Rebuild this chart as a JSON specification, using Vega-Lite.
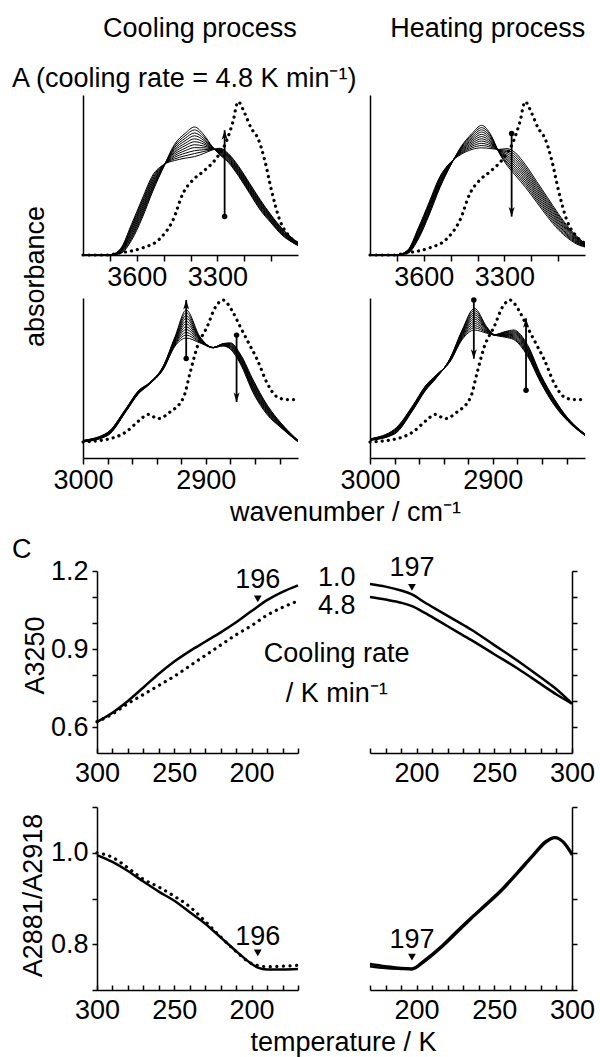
{
"$schema":"https://vega.github.io/schema/vega-lite/v6.json",
"autosize":{"type":"none"},
"padding":{"left":83,"top":95,"right":517,"bottom":962},
"background":"white",
"bounds":"flush",
"columns":2,
"spacing":{"row":43,"column":72},
"config":{
 "view":{"stroke":null},
 "font":"Liberation Sans",
 "axis":{"domainColor":"black","domainWidth":1.5,"tickColor":"black","tickWidth":1.5,"labelColor":"black","labelFontSize":27,"titleFontSize":27,"titleFontWeight":"normal","titleColor":"black","grid":false,"labelFont":"Liberation Sans","titleFont":"Liberation Sans","labelOverlap":false,"labelFlush":false,"labelBound":false,"tickCount":100},
 "text":{"font":"Liberation Sans","fontSize":27,"color":"black"}
},
"datasets":{
 "spec":[
  {"p":"TL","w":3800,"c0":0,"m0":0,"c1":0,"m1":0,"c2":0,"m2":0,"c3":0,"m3":0,"c4":0,"m4":0,"c5":0},
  {"p":"TL","w":3700,"c0":0,"m0":0,"c1":0,"m1":0,"c2":0,"m2":0,"c3":0,"m3":0,"c4":0,"m4":0,"c5":0},
  {"p":"TL","w":3660,"c0":0.01,"m0":0.013,"c1":0.016,"m1":0.019,"c2":0.022,"m2":0.025,"c3":0.028,"m3":0.031,"c4":0.034,"m4":0.037,"c5":0.04},
  {"p":"TL","w":3620,"c0":0.09,"m0":0.10,"c1":0.11,"m1":0.12,"c2":0.13,"m2":0.14,"c3":0.15,"m3":0.16,"c4":0.17,"m4":0.18,"c5":0.19},
  {"p":"TL","w":3580,"c0":0.23,"m0":0.242,"c1":0.254,"m1":0.266,"c2":0.278,"m2":0.29,"c3":0.302,"m3":0.314,"c4":0.326,"m4":0.338,"c5":0.35},
  {"p":"TL","w":3540,"c0":0.40,"m0":0.41,"c1":0.42,"m1":0.43,"c2":0.44,"m2":0.45,"c3":0.46,"m3":0.47,"c4":0.48,"m4":0.49,"c5":0.50},
  {"p":"TL","w":3500,"c0":0.55,"m0":0.552,"c1":0.553,"m1":0.555,"c2":0.556,"m2":0.558,"c3":0.559,"m3":0.561,"c4":0.562,"m4":0.564,"c5":0.565},
  {"p":"TL","w":3460,"c0":0.69,"m0":0.68,"c1":0.67,"m1":0.66,"c2":0.65,"m2":0.64,"c3":0.63,"m3":0.62,"c4":0.61,"m4":0.60,"c5":0.59},
  {"p":"TL","w":3420,"c0":0.76,"m0":0.745,"c1":0.729,"m1":0.714,"c2":0.698,"m2":0.683,"c3":0.667,"m3":0.652,"c4":0.636,"m4":0.62,"c5":0.605},
  {"p":"TL","w":3385,"c0":0.80,"m0":0.782,"c1":0.763,"m1":0.745,"c2":0.726,"m2":0.708,"c3":0.689,"m3":0.671,"c4":0.652,"m4":0.634,"c5":0.615},
  {"p":"TL","w":3350,"c0":0.75,"m0":0.739,"c1":0.727,"m1":0.716,"c2":0.704,"m2":0.693,"c3":0.681,"m3":0.67,"c4":0.658,"m4":0.647,"c5":0.635},
  {"p":"TL","w":3320,"c0":0.68,"m0":0.678,"c1":0.675,"m1":0.673,"c2":0.67,"m2":0.668,"c3":0.666,"m3":0.663,"c4":0.661,"m4":0.658,"c5":0.656},
  {"p":"TL","w":3290,"c0":0.625,"m0":0.629,"c1":0.633,"m1":0.638,"c2":0.642,"m2":0.646,"c3":0.65,"m3":0.654,"c4":0.659,"m4":0.663,"c5":0.667},
  {"p":"TL","w":3260,"c0":0.58,"m0":0.586,"c1":0.591,"m1":0.597,"c2":0.602,"m2":0.608,"c3":0.613,"m3":0.619,"c4":0.624,"m4":0.63,"c5":0.635},
  {"p":"TL","w":3220,"c0":0.49,"m0":0.496,"c1":0.502,"m1":0.509,"c2":0.515,"m2":0.521,"c3":0.527,"m3":0.533,"c4":0.54,"m4":0.546,"c5":0.552},
  {"p":"TL","w":3180,"c0":0.385,"m0":0.391,"c1":0.398,"m1":0.404,"c2":0.41,"m2":0.417,"c3":0.423,"m3":0.429,"c4":0.435,"m4":0.442,"c5":0.448},
  {"p":"TL","w":3140,"c0":0.28,"m0":0.286,"c1":0.293,"m1":0.299,"c2":0.306,"m2":0.312,"c3":0.318,"m3":0.325,"c4":0.331,"m4":0.338,"c5":0.344},
  {"p":"TL","w":3100,"c0":0.2,"m0":0.205,"c1":0.21,"m1":0.215,"c2":0.22,"m2":0.225,"c3":0.23,"m3":0.235,"c4":0.24,"m4":0.245,"c5":0.25},
  {"p":"TL","w":3060,"c0":0.125,"m0":0.129,"c1":0.133,"m1":0.138,"c2":0.142,"m2":0.146,"c3":0.15,"m3":0.154,"c4":0.159,"m4":0.163,"c5":0.167},
  {"p":"TL","w":3020,"c0":0.077,"m0":0.08,"c1":0.082,"m1":0.085,"c2":0.088,"m2":0.09,"c3":0.093,"m3":0.096,"c4":0.099,"m4":0.101,"c5":0.104},
  {"p":"TL","w":3000,"c0":0.058,"m0":0.06,"c1":0.062,"m1":0.064,"c2":0.066,"m2":0.068,"c3":0.069,"m3":0.071,"c4":0.073,"m4":0.075,"c5":0.077},

  {"p":"TR","w":3800,"c0":0,"m0":0,"c1":0,"m1":0,"c2":0,"m2":0,"c3":0,"m3":0,"c4":0,"m4":0,"c5":0},
  {"p":"TR","w":3700,"c0":0,"m0":0,"c1":0,"m1":0,"c2":0,"m2":0,"c3":0,"m3":0,"c4":0,"m4":0,"c5":0},
  {"p":"TR","w":3660,"c0":0.03,"m0":0.028,"c1":0.026,"m1":0.024,"c2":0.022,"m2":0.02,"c3":0.018,"m3":0.016,"c4":0.014,"m4":0.012,"c5":0.01},
  {"p":"TR","w":3620,"c0":0.17,"m0":0.163,"c1":0.156,"m1":0.149,"c2":0.142,"m2":0.135,"c3":0.128,"m3":0.121,"c4":0.114,"m4":0.107,"c5":0.10},
  {"p":"TR","w":3580,"c0":0.33,"m0":0.322,"c1":0.314,"m1":0.306,"c2":0.298,"m2":0.29,"c3":0.282,"m3":0.274,"c4":0.266,"m4":0.258,"c5":0.25},
  {"p":"TR","w":3540,"c0":0.49,"m0":0.483,"c1":0.476,"m1":0.469,"c2":0.462,"m2":0.455,"c3":0.448,"m3":0.441,"c4":0.434,"m4":0.427,"c5":0.42},
  {"p":"TR","w":3500,"c0":0.58,"m0":0.578,"c1":0.576,"m1":0.574,"c2":0.572,"m2":0.57,"c3":0.568,"m3":0.566,"c4":0.564,"m4":0.562,"c5":0.56},
  {"p":"TR","w":3460,"c0":0.63,"m0":0.635,"c1":0.64,"m1":0.645,"c2":0.65,"m2":0.655,"c3":0.66,"m3":0.665,"c4":0.67,"m4":0.675,"c5":0.68},
  {"p":"TR","w":3420,"c0":0.66,"m0":0.67,"c1":0.68,"m1":0.69,"c2":0.70,"m2":0.71,"c3":0.72,"m3":0.73,"c4":0.74,"m4":0.75,"c5":0.76},
  {"p":"TR","w":3385,"c0":0.67,"m0":0.684,"c1":0.698,"m1":0.712,"c2":0.726,"m2":0.74,"c3":0.754,"m3":0.768,"c4":0.782,"m4":0.796,"c5":0.81},
  {"p":"TR","w":3350,"c0":0.665,"m0":0.674,"c1":0.682,"m1":0.691,"c2":0.699,"m2":0.708,"c3":0.716,"m3":0.725,"c4":0.733,"m4":0.742,"c5":0.75},
  {"p":"TR","w":3320,"c0":0.66,"m0":0.658,"c1":0.656,"m1":0.654,"c2":0.652,"m2":0.65,"c3":0.648,"m3":0.646,"c4":0.644,"m4":0.642,"c5":0.64},
  {"p":"TR","w":3290,"c0":0.665,"m0":0.655,"c1":0.644,"m1":0.634,"c2":0.623,"m2":0.613,"c3":0.602,"m3":0.592,"c4":0.581,"m4":0.571,"c5":0.56},
  {"p":"TR","w":3260,"c0":0.64,"m0":0.626,"c1":0.612,"m1":0.598,"c2":0.584,"m2":0.57,"c3":0.556,"m3":0.542,"c4":0.528,"m4":0.514,"c5":0.50},
  {"p":"TR","w":3220,"c0":0.56,"m0":0.546,"c1":0.532,"m1":0.518,"c2":0.504,"m2":0.49,"c3":0.476,"m3":0.462,"c4":0.448,"m4":0.434,"c5":0.42},
  {"p":"TR","w":3180,"c0":0.46,"m0":0.447,"c1":0.434,"m1":0.421,"c2":0.408,"m2":0.395,"c3":0.382,"m3":0.369,"c4":0.356,"m4":0.343,"c5":0.33},
  {"p":"TR","w":3140,"c0":0.36,"m0":0.348,"c1":0.336,"m1":0.324,"c2":0.312,"m2":0.30,"c3":0.288,"m3":0.276,"c4":0.264,"m4":0.252,"c5":0.24},
  {"p":"TR","w":3100,"c0":0.26,"m0":0.25,"c1":0.24,"m1":0.23,"c2":0.22,"m2":0.21,"c3":0.20,"m3":0.19,"c4":0.18,"m4":0.17,"c5":0.16},
  {"p":"TR","w":3060,"c0":0.17,"m0":0.163,"c1":0.156,"m1":0.149,"c2":0.142,"m2":0.135,"c3":0.128,"m3":0.121,"c4":0.114,"m4":0.107,"c5":0.10},
  {"p":"TR","w":3020,"c0":0.10,"m0":0.096,"c1":0.092,"m1":0.088,"c2":0.084,"m2":0.08,"c3":0.076,"m3":0.072,"c4":0.068,"m4":0.064,"c5":0.06},
  {"p":"TR","w":3000,"c0":0.07,"m0":0.068,"c1":0.066,"m1":0.064,"c2":0.062,"m2":0.06,"c3":0.058,"m3":0.056,"c4":0.054,"m4":0.052,"c5":0.05},

  {"p":"BL","w":3000,"c0":0.10,"m0":0.101,"c1":0.102,"m1":0.103,"c2":0.104,"m2":0.105,"c3":0.106,"m3":0.107,"c4":0.108,"m4":0.109,"c5":0.11},
  {"p":"BL","w":2980,"c0":0.14,"m0":0.142,"c1":0.144,"m1":0.146,"c2":0.148,"m2":0.15,"c3":0.152,"m3":0.154,"c4":0.156,"m4":0.158,"c5":0.16},
  {"p":"BL","w":2965,"c0":0.29,"m0":0.292,"c1":0.294,"m1":0.296,"c2":0.298,"m2":0.30,"c3":0.302,"m3":0.304,"c4":0.306,"m4":0.308,"c5":0.31},
  {"p":"BL","w":2955,"c0":0.40,"m0":0.402,"c1":0.404,"m1":0.406,"c2":0.408,"m2":0.41,"c3":0.412,"m3":0.414,"c4":0.416,"m4":0.418,"c5":0.42},
  {"p":"BL","w":2946,"c0":0.46,"m0":0.461,"c1":0.462,"m1":0.463,"c2":0.464,"m2":0.465,"c3":0.466,"m3":0.467,"c4":0.468,"m4":0.469,"c5":0.47},
  {"p":"BL","w":2935,"c0":0.55,"m0":0.552,"c1":0.554,"m1":0.556,"c2":0.558,"m2":0.56,"c3":0.562,"m3":0.564,"c4":0.566,"m4":0.568,"c5":0.57},
  {"p":"BL","w":2925,"c0":0.70,"m0":0.706,"c1":0.712,"m1":0.718,"c2":0.724,"m2":0.73,"c3":0.736,"m3":0.742,"c4":0.748,"m4":0.754,"c5":0.76},
  {"p":"BL","w":2916,"c0":0.75,"m0":0.768,"c1":0.785,"m1":0.803,"c2":0.82,"m2":0.838,"c3":0.855,"m3":0.873,"c4":0.89,"m4":0.908,"c5":0.925},
  {"p":"BL","w":2905,"c0":0.72,"m0":0.724,"c1":0.728,"m1":0.732,"c2":0.736,"m2":0.74,"c3":0.744,"m3":0.748,"c4":0.752,"m4":0.756,"c5":0.76},
  {"p":"BL","w":2894,"c0":0.69,"m0":0.69,"c1":0.689,"m1":0.689,"c2":0.69,"m2":0.69,"c3":0.689,"m3":0.691,"c4":0.691,"m4":0.69,"c5":0.69},
  {"p":"BL","w":2886,"c0":0.715,"m0":0.714,"c1":0.712,"m1":0.711,"c2":0.709,"m2":0.708,"c3":0.706,"m3":0.705,"c4":0.703,"m4":0.702,"c5":0.70},
  {"p":"BL","w":2880,"c0":0.72,"m0":0.716,"c1":0.712,"m1":0.708,"c2":0.704,"m2":0.70,"c3":0.696,"m3":0.692,"c4":0.688,"m4":0.684,"c5":0.68},
  {"p":"BL","w":2872,"c0":0.65,"m0":0.644,"c1":0.638,"m1":0.632,"c2":0.626,"m2":0.62,"c3":0.614,"m3":0.608,"c4":0.602,"m4":0.596,"c5":0.59},
  {"p":"BL","w":2861,"c0":0.48,"m0":0.472,"c1":0.464,"m1":0.456,"c2":0.448,"m2":0.44,"c3":0.432,"m3":0.424,"c4":0.416,"m4":0.408,"c5":0.40},
  {"p":"BL","w":2850,"c0":0.33,"m0":0.324,"c1":0.318,"m1":0.312,"c2":0.306,"m2":0.30,"c3":0.294,"m3":0.288,"c4":0.282,"m4":0.276,"c5":0.27},
  {"p":"BL","w":2839,"c0":0.22,"m0":0.217,"c1":0.214,"m1":0.211,"c2":0.208,"m2":0.205,"c3":0.202,"m3":0.199,"c4":0.196,"m4":0.193,"c5":0.19},
  {"p":"BL","w":2825,"c0":0.11,"m0":0.109,"c1":0.108,"m1":0.107,"c2":0.106,"m2":0.105,"c3":0.104,"m3":0.103,"c4":0.102,"m4":0.101,"c5":0.10},

  {"p":"BR","w":3000,"c0":0.11,"m0":0.111,"c1":0.112,"m1":0.113,"c2":0.114,"m2":0.115,"c3":0.116,"m3":0.117,"c4":0.118,"m4":0.119,"c5":0.12},
  {"p":"BR","w":2980,"c0":0.15,"m0":0.153,"c1":0.156,"m1":0.159,"c2":0.162,"m2":0.165,"c3":0.168,"m3":0.171,"c4":0.174,"m4":0.177,"c5":0.18},
  {"p":"BR","w":2965,"c0":0.30,"m0":0.303,"c1":0.306,"m1":0.309,"c2":0.312,"m2":0.315,"c3":0.318,"m3":0.321,"c4":0.324,"m4":0.327,"c5":0.33},
  {"p":"BR","w":2955,"c0":0.42,"m0":0.423,"c1":0.426,"m1":0.429,"c2":0.432,"m2":0.435,"c3":0.438,"m3":0.441,"c4":0.444,"m4":0.447,"c5":0.45},
  {"p":"BR","w":2946,"c0":0.50,"m0":0.502,"c1":0.504,"m1":0.506,"c2":0.508,"m2":0.51,"c3":0.512,"m3":0.514,"c4":0.516,"m4":0.518,"c5":0.52},
  {"p":"BR","w":2935,"c0":0.62,"m0":0.618,"c1":0.616,"m1":0.614,"c2":0.612,"m2":0.61,"c3":0.608,"m3":0.606,"c4":0.604,"m4":0.602,"c5":0.60},
  {"p":"BR","w":2925,"c0":0.80,"m0":0.794,"c1":0.788,"m1":0.782,"c2":0.776,"m2":0.77,"c3":0.764,"m3":0.758,"c4":0.752,"m4":0.746,"c5":0.74},
  {"p":"BR","w":2915,"c0":0.935,"m0":0.922,"c1":0.908,"m1":0.895,"c2":0.881,"m2":0.868,"c3":0.854,"m3":0.841,"c4":0.827,"m4":0.814,"c5":0.80},
  {"p":"BR","w":2905,"c0":0.82,"m0":0.816,"c1":0.812,"m1":0.808,"c2":0.804,"m2":0.80,"c3":0.796,"m3":0.792,"c4":0.788,"m4":0.784,"c5":0.78},
  {"p":"BR","w":2899,"c0":0.77,"m0":0.77,"c1":0.771,"m1":0.771,"c2":0.77,"m2":0.77,"c3":0.769,"m3":0.769,"c4":0.77,"m4":0.77,"c5":0.77},
  {"p":"BR","w":2890,"c0":0.755,"m0":0.759,"c1":0.762,"m1":0.766,"c2":0.769,"m2":0.773,"c3":0.776,"m3":0.78,"c4":0.783,"m4":0.787,"c5":0.79},
  {"p":"BR","w":2883,"c0":0.74,"m0":0.746,"c1":0.752,"m1":0.758,"c2":0.764,"m2":0.77,"c3":0.776,"m3":0.782,"c4":0.788,"m4":0.794,"c5":0.80},
  {"p":"BR","w":2872,"c0":0.64,"m0":0.647,"c1":0.654,"m1":0.661,"c2":0.668,"m2":0.675,"c3":0.682,"m3":0.689,"c4":0.696,"m4":0.703,"c5":0.71},
  {"p":"BR","w":2861,"c0":0.47,"m0":0.475,"c1":0.48,"m1":0.485,"c2":0.49,"m2":0.495,"c3":0.50,"m3":0.505,"c4":0.51,"m4":0.515,"c5":0.52},
  {"p":"BR","w":2850,"c0":0.33,"m0":0.334,"c1":0.338,"m1":0.342,"c2":0.346,"m2":0.35,"c3":0.354,"m3":0.358,"c4":0.362,"m4":0.366,"c5":0.37},
  {"p":"BR","w":2839,"c0":0.23,"m0":0.232,"c1":0.234,"m1":0.236,"c2":0.238,"m2":0.24,"c3":0.242,"m3":0.244,"c4":0.246,"m4":0.248,"c5":0.25},
  {"p":"BR","w":2825,"c0":0.14,"m0":0.141,"c1":0.142,"m1":0.143,"c2":0.144,"m2":0.145,"c3":0.146,"m3":0.147,"c4":0.148,"m4":0.149,"c5":0.15}
 ],
 "dot":[
  {"p":"OH","w":3800,"v":0},{"p":"OH","w":3700,"v":0},{"p":"OH","w":3676,"v":0.01},{"p":"OH","w":3620,"v":0.025},
  {"p":"OH","w":3577,"v":0.045},{"p":"OH","w":3515,"v":0.1},{"p":"OH","w":3465,"v":0.219},{"p":"OH","w":3428,"v":0.385},
  {"p":"OH","w":3391,"v":0.469},{"p":"OH","w":3353,"v":0.521},{"p":"OH","w":3304,"v":0.604},{"p":"OH","w":3267,"v":0.708},
  {"p":"OH","w":3242,"v":0.833},{"p":"OH","w":3223,"v":0.958},{"p":"OH","w":3198,"v":0.885},{"p":"OH","w":3174,"v":0.792},
  {"p":"OH","w":3149,"v":0.729},{"p":"OH","w":3124,"v":0.594},{"p":"OH","w":3099,"v":0.406},{"p":"OH","w":3068,"v":0.219},
  {"p":"OH","w":3031,"v":0.115},{"p":"OH","w":3000,"v":0.073},
  {"p":"CH","w":3000,"v":0.10},{"p":"CH","w":2978,"v":0.121},{"p":"CH","w":2965,"v":0.163},{"p":"CH","w":2954,"v":0.236},
  {"p":"CH","w":2947,"v":0.273},{"p":"CH","w":2939,"v":0.246},{"p":"CH","w":2929,"v":0.288},{"p":"CH","w":2918,"v":0.382},
  {"p":"CH","w":2913,"v":0.528},{"p":"CH","w":2907,"v":0.695},{"p":"CH","w":2899,"v":0.82},{"p":"CH","w":2892,"v":0.946},
  {"p":"CH","w":2886,"v":0.987},{"p":"CH","w":2879,"v":0.925},{"p":"CH","w":2872,"v":0.82},{"p":"CH","w":2865,"v":0.716},
  {"p":"CH","w":2858,"v":0.612},{"p":"CH","w":2850,"v":0.466},{"p":"CH","w":2842,"v":0.382},{"p":"CH","w":2834,"v":0.365},
  {"p":"CH","w":2825,"v":0.365}
 ],
 "arr":[
  {"p":"TL","w":3273,"a":0.24,"b":0.78,"dir":"up"},
  {"p":"TR","w":3273,"a":0.76,"b":0.24,"dir":"down"},
  {"p":"BL","w":2916,"a":0.622,"b":0.987,"dir":"up"},
  {"p":"BL","w":2875,"a":0.768,"b":0.35,"dir":"down"},
  {"p":"BR","w":2915.5,"a":0.987,"b":0.62,"dir":"down"},
  {"p":"BR","w":2873,"a":0.424,"b":0.873,"dir":"up"}
 ],
 "temp":[
  {"p":"CTL","r":1.0,"t":300,"v":0.62},{"p":"CTL","r":1.0,"t":290,"v":0.655},{"p":"CTL","r":1.0,"t":280,"v":0.70},
  {"p":"CTL","r":1.0,"t":270,"v":0.752},{"p":"CTL","r":1.0,"t":260,"v":0.805},{"p":"CTL","r":1.0,"t":250,"v":0.852},
  {"p":"CTL","r":1.0,"t":240,"v":0.892},{"p":"CTL","r":1.0,"t":230,"v":0.928},{"p":"CTL","r":1.0,"t":220,"v":0.964},
  {"p":"CTL","r":1.0,"t":210,"v":1.003},{"p":"CTL","r":1.0,"t":200,"v":1.046},{"p":"CTL","r":1.0,"t":190,"v":1.088},
  {"p":"CTL","r":1.0,"t":180,"v":1.12},{"p":"CTL","r":1.0,"t":170,"v":1.145},
  {"p":"CTL","r":4.8,"t":300,"v":0.62},{"p":"CTL","r":4.8,"t":290,"v":0.65},{"p":"CTL","r":4.8,"t":280,"v":0.69},
  {"p":"CTL","r":4.8,"t":270,"v":0.725},{"p":"CTL","r":4.8,"t":260,"v":0.76},{"p":"CTL","r":4.8,"t":250,"v":0.795},
  {"p":"CTL","r":4.8,"t":240,"v":0.835},{"p":"CTL","r":4.8,"t":230,"v":0.875},{"p":"CTL","r":4.8,"t":220,"v":0.915},
  {"p":"CTL","r":4.8,"t":210,"v":0.955},{"p":"CTL","r":4.8,"t":200,"v":0.99},{"p":"CTL","r":4.8,"t":190,"v":1.03},
  {"p":"CTL","r":4.8,"t":180,"v":1.06},{"p":"CTL","r":4.8,"t":170,"v":1.085},

  {"p":"CTR","r":1.0,"t":170,"v":1.15},{"p":"CTR","r":1.0,"t":180,"v":1.14},{"p":"CTR","r":1.0,"t":190,"v":1.125},
  {"p":"CTR","r":1.0,"t":197,"v":1.11},{"p":"CTR","r":1.0,"t":205,"v":1.08},{"p":"CTR","r":1.0,"t":215,"v":1.045},
  {"p":"CTR","r":1.0,"t":225,"v":1.01},{"p":"CTR","r":1.0,"t":235,"v":0.975},{"p":"CTR","r":1.0,"t":250,"v":0.915},
  {"p":"CTR","r":1.0,"t":265,"v":0.855},{"p":"CTR","r":1.0,"t":280,"v":0.79},{"p":"CTR","r":1.0,"t":290,"v":0.745},
  {"p":"CTR","r":1.0,"t":300,"v":0.69},
  {"p":"CTR","r":4.8,"t":170,"v":1.10},{"p":"CTR","r":4.8,"t":180,"v":1.09},{"p":"CTR","r":4.8,"t":190,"v":1.078},
  {"p":"CTR","r":4.8,"t":197,"v":1.065},{"p":"CTR","r":4.8,"t":205,"v":1.04},{"p":"CTR","r":4.8,"t":215,"v":1.005},
  {"p":"CTR","r":4.8,"t":225,"v":0.97},{"p":"CTR","r":4.8,"t":235,"v":0.935},{"p":"CTR","r":4.8,"t":250,"v":0.88},
  {"p":"CTR","r":4.8,"t":265,"v":0.825},{"p":"CTR","r":4.8,"t":280,"v":0.765},{"p":"CTR","r":4.8,"t":290,"v":0.725},
  {"p":"CTR","r":4.8,"t":300,"v":0.69},

  {"p":"CBL","r":1.0,"t":300,"v":0.995},{"p":"CBL","r":1.0,"t":290,"v":0.98},{"p":"CBL","r":1.0,"t":280,"v":0.96},
  {"p":"CBL","r":1.0,"t":270,"v":0.937},{"p":"CBL","r":1.0,"t":260,"v":0.915},{"p":"CBL","r":1.0,"t":250,"v":0.895},
  {"p":"CBL","r":1.0,"t":240,"v":0.87},{"p":"CBL","r":1.0,"t":230,"v":0.845},{"p":"CBL","r":1.0,"t":220,"v":0.815},
  {"p":"CBL","r":1.0,"t":210,"v":0.785},{"p":"CBL","r":1.0,"t":200,"v":0.757},{"p":"CBL","r":1.0,"t":196,"v":0.749},
  {"p":"CBL","r":1.0,"t":190,"v":0.745},{"p":"CBL","r":1.0,"t":180,"v":0.745},{"p":"CBL","r":1.0,"t":170,"v":0.746},
  {"p":"CBL","r":4.8,"t":300,"v":1.0},{"p":"CBL","r":4.8,"t":290,"v":0.99},{"p":"CBL","r":4.8,"t":280,"v":0.967},
  {"p":"CBL","r":4.8,"t":270,"v":0.942},{"p":"CBL","r":4.8,"t":260,"v":0.925},{"p":"CBL","r":4.8,"t":250,"v":0.905},
  {"p":"CBL","r":4.8,"t":240,"v":0.882},{"p":"CBL","r":4.8,"t":230,"v":0.85},{"p":"CBL","r":4.8,"t":220,"v":0.816},
  {"p":"CBL","r":4.8,"t":210,"v":0.784},{"p":"CBL","r":4.8,"t":200,"v":0.758},{"p":"CBL","r":4.8,"t":190,"v":0.751},
  {"p":"CBL","r":4.8,"t":180,"v":0.752},{"p":"CBL","r":4.8,"t":170,"v":0.754},

  {"p":"CBR","r":1.0,"t":170,"v":0.752},{"p":"CBR","r":1.0,"t":180,"v":0.748},{"p":"CBR","r":1.0,"t":190,"v":0.746},
  {"p":"CBR","r":1.0,"t":197,"v":0.745},{"p":"CBR","r":1.0,"t":205,"v":0.762},{"p":"CBR","r":1.0,"t":215,"v":0.79},
  {"p":"CBR","r":1.0,"t":225,"v":0.822},{"p":"CBR","r":1.0,"t":235,"v":0.855},{"p":"CBR","r":1.0,"t":245,"v":0.886},
  {"p":"CBR","r":1.0,"t":255,"v":0.918},{"p":"CBR","r":1.0,"t":265,"v":0.955},{"p":"CBR","r":1.0,"t":275,"v":0.993},
  {"p":"CBR","r":1.0,"t":283,"v":1.022},{"p":"CBR","r":1.0,"t":289,"v":1.032},{"p":"CBR","r":1.0,"t":295,"v":1.02},
  {"p":"CBR","r":1.0,"t":300,"v":0.995},
  {"p":"CBR","r":4.8,"t":170,"v":0.757},{"p":"CBR","r":4.8,"t":180,"v":0.752},{"p":"CBR","r":4.8,"t":190,"v":0.748},
  {"p":"CBR","r":4.8,"t":197,"v":0.747},{"p":"CBR","r":4.8,"t":205,"v":0.765},{"p":"CBR","r":4.8,"t":215,"v":0.793},
  {"p":"CBR","r":4.8,"t":225,"v":0.826},{"p":"CBR","r":4.8,"t":235,"v":0.858},{"p":"CBR","r":4.8,"t":245,"v":0.889},
  {"p":"CBR","r":4.8,"t":255,"v":0.921},{"p":"CBR","r":4.8,"t":265,"v":0.958},{"p":"CBR","r":4.8,"t":275,"v":0.996},
  {"p":"CBR","r":4.8,"t":283,"v":1.025},{"p":"CBR","r":4.8,"t":289,"v":1.034},{"p":"CBR","r":4.8,"t":295,"v":1.022},
  {"p":"CBR","r":4.8,"t":300,"v":0.998}
 ]
},
"concat":[
 {
  "width":215,"height":160,
  "layer":[
   {"data":{"name":"spec"},
    "transform":[{"filter":"datum.p == 'TL'"},{"fold":["c0","m0","c1","m1","c2","m2","c3","m3","c4","m4","c5"],"as":["k","v"]}],
    "mark":{"type":"line","color":"black","strokeWidth":1,"interpolate":"monotone"},
    "encoding":{
     "x":{"field":"w","type":"quantitative","scale":{"domain":[3800,3000],"nice":false,"zero":false},
      "axis":{"values":[3700,3600,3500,3400,3300,3200,3100],"tickCount":100,"format":"d","labelOverlap":false,"labelExpr":"datum.value == 3600 || datum.value == 3300 ? datum.label : ''","tickSize":6,"labelPadding":3,"title":null}},
     "y":{"field":"v","type":"quantitative","scale":{"domain":[0,1],"nice":false,"zero":false},
      "axis":{"ticks":false,"labels":false,"title":"absorbance","titleX":-48,"titleY":181,"titleAngle":270,"titleAlign":"center","titleBaseline":"middle"}},
     "detail":{"field":"k"}}},
   {"data":{"name":"dot"},"transform":[{"filter":"datum.p == 'OH'"}],
    "mark":{"type":"line","color":"black","strokeWidth":3.2,"strokeDash":[0.1,6],"strokeCap":"round","interpolate":"monotone"},
    "encoding":{"x":{"field":"w","type":"quantitative"},"y":{"field":"v","type":"quantitative"}}},
   {"data":{"name":"arr"},"transform":[{"filter":"datum.p == 'TL'"}],
    "mark":{"type":"rule","color":"black","strokeWidth":1.8},
    "encoding":{"x":{"field":"w","type":"quantitative"},"y":{"field":"a","type":"quantitative"},"y2":{"field":"b"}}},
   {"data":{"name":"arr"},"transform":[{"filter":"datum.p == 'TL'"}],
    "mark":{"type":"point","filled":true,"color":"black","opacity":1,"size":30},
    "encoding":{"x":{"field":"w","type":"quantitative"},"y":{"field":"a","type":"quantitative"}}},
   {"data":{"name":"arr"},"transform":[{"filter":"datum.p == 'TL' && datum.dir == 'up'"}],
    "mark":{"type":"point","filled":true,"color":"black","opacity":1,"size":100,"shape":"M0,0L-0.6,1.9L0,1.4L0.6,1.9Z"},
    "encoding":{"x":{"field":"w","type":"quantitative"},"y":{"field":"b","type":"quantitative"}}},
   {"data":{"values":[{}]},"mark":{"type":"text","align":"center","baseline":"alphabetic","fontSize":27},
    "encoding":{"x":{"datum":3365},"y":{"datum":1.3625},"text":{"value":"Cooling process"}}},
   {"data":{"values":[{}]},"mark":{"type":"text","align":"left","baseline":"alphabetic","fontSize":27},
    "encoding":{"x":{"datum":4064},"y":{"datum":1.05},"text":{"value":"A  (cooling rate = 4.8 K min⁻¹)"}}}
  ]
 },
 {
  "width":215,"height":160,
  "layer":[
   {"data":{"name":"spec"},
    "transform":[{"filter":"datum.p == 'TR'"},{"fold":["c0","m0","c1","m1","c2","m2","c3","m3","c4","m4","c5"],"as":["k","v"]}],
    "mark":{"type":"line","color":"black","strokeWidth":1,"interpolate":"monotone"},
    "encoding":{
     "x":{"field":"w","type":"quantitative","scale":{"domain":[3800,3000],"nice":false,"zero":false},
      "axis":{"values":[3700,3600,3500,3400,3300,3200,3100],"tickCount":100,"format":"d","labelOverlap":false,"labelExpr":"datum.value == 3600 || datum.value == 3300 ? datum.label : ''","tickSize":6,"labelPadding":3,"title":null}},
     "y":{"field":"v","type":"quantitative","scale":{"domain":[0,1],"nice":false,"zero":false},
      "axis":{"ticks":false,"labels":false,"title":null}},
     "detail":{"field":"k"}}},
   {"data":{"name":"dot"},"transform":[{"filter":"datum.p == 'OH'"}],
    "mark":{"type":"line","color":"black","strokeWidth":3.2,"strokeDash":[0.1,6],"strokeCap":"round","interpolate":"monotone"},
    "encoding":{"x":{"field":"w","type":"quantitative"},"y":{"field":"v","type":"quantitative"}}},
   {"data":{"name":"arr"},"transform":[{"filter":"datum.p == 'TR'"}],
    "mark":{"type":"rule","color":"black","strokeWidth":1.8},
    "encoding":{"x":{"field":"w","type":"quantitative"},"y":{"field":"a","type":"quantitative"},"y2":{"field":"b"}}},
   {"data":{"name":"arr"},"transform":[{"filter":"datum.p == 'TR'"}],
    "mark":{"type":"point","filled":true,"color":"black","opacity":1,"size":30},
    "encoding":{"x":{"field":"w","type":"quantitative"},"y":{"field":"a","type":"quantitative"}}},
   {"data":{"name":"arr"},"transform":[{"filter":"datum.p == 'TR' && datum.dir == 'down'"}],
    "mark":{"type":"point","filled":true,"color":"black","opacity":1,"size":100,"shape":"M0,0L-0.6,-1.9L0,-1.4L0.6,-1.9Z"},
    "encoding":{"x":{"field":"w","type":"quantitative"},"y":{"field":"b","type":"quantitative"}}},
   {"data":{"values":[{}]},"mark":{"type":"text","align":"center","baseline":"alphabetic","fontSize":27},
    "encoding":{"x":{"datum":3362},"y":{"datum":1.3625},"text":{"value":"Heating process"}}}
  ]
 },
 {
  "width":215,"height":160,
  "layer":[
   {"data":{"name":"spec"},
    "transform":[{"filter":"datum.p == 'BL'"},{"fold":["c0","m0","c1","m1","c2","m2","c3","m3","c4","m4","c5"],"as":["k","v"]}],
    "mark":{"type":"line","color":"black","strokeWidth":1,"interpolate":"monotone"},
    "encoding":{
     "x":{"field":"w","type":"quantitative","scale":{"domain":[3000,2825],"nice":false,"zero":false},
      "axis":{"values":[3000,2980,2960,2940,2920,2900,2880,2860,2840],"tickCount":100,"format":"d","labelOverlap":false,"labelExpr":"datum.value == 3000 || datum.value == 2900 ? datum.label : ''","tickSize":6,"labelPadding":3,
       "title":"wavenumber / cm⁻¹","titleX":262,"titleY":54,"titleAlign":"center","titleBaseline":"middle"}},
     "y":{"field":"v","type":"quantitative","scale":{"domain":[0,1],"nice":false,"zero":false},
      "axis":{"ticks":false,"labels":false,"title":null}},
     "detail":{"field":"k"}}},
   {"data":{"name":"dot"},"transform":[{"filter":"datum.p == 'CH'"}],
    "mark":{"type":"line","color":"black","strokeWidth":3.2,"strokeDash":[0.1,6],"strokeCap":"round","interpolate":"monotone"},
    "encoding":{"x":{"field":"w","type":"quantitative"},"y":{"field":"v","type":"quantitative"}}},
   {"data":{"name":"arr"},"transform":[{"filter":"datum.p == 'BL'"}],
    "mark":{"type":"rule","color":"black","strokeWidth":1.8},
    "encoding":{"x":{"field":"w","type":"quantitative"},"y":{"field":"a","type":"quantitative"},"y2":{"field":"b"}}},
   {"data":{"name":"arr"},"transform":[{"filter":"datum.p == 'BL'"}],
    "mark":{"type":"point","filled":true,"color":"black","opacity":1,"size":30},
    "encoding":{"x":{"field":"w","type":"quantitative"},"y":{"field":"a","type":"quantitative"}}},
   {"data":{"name":"arr"},"transform":[{"filter":"datum.p == 'BL' && datum.dir == 'up'"}],
    "mark":{"type":"point","filled":true,"color":"black","opacity":1,"size":100,"shape":"M0,0L-0.6,1.9L0,1.4L0.6,1.9Z"},
    "encoding":{"x":{"field":"w","type":"quantitative"},"y":{"field":"b","type":"quantitative"}}},
   {"data":{"name":"arr"},"transform":[{"filter":"datum.p == 'BL' && datum.dir == 'down'"}],
    "mark":{"type":"point","filled":true,"color":"black","opacity":1,"size":100,"shape":"M0,0L-0.6,-1.9L0,-1.4L0.6,-1.9Z"},
    "encoding":{"x":{"field":"w","type":"quantitative"},"y":{"field":"b","type":"quantitative"}}}
  ]
 },
 {
  "width":215,"height":160,
  "layer":[
   {"data":{"name":"spec"},
    "transform":[{"filter":"datum.p == 'BR'"},{"fold":["c0","m0","c1","m1","c2","m2","c3","m3","c4","m4","c5"],"as":["k","v"]}],
    "mark":{"type":"line","color":"black","strokeWidth":1,"interpolate":"monotone"},
    "encoding":{
     "x":{"field":"w","type":"quantitative","scale":{"domain":[3000,2825],"nice":false,"zero":false},
      "axis":{"values":[3000,2980,2960,2940,2920,2900,2880,2860,2840],"tickCount":100,"format":"d","labelOverlap":false,"labelExpr":"datum.value == 3000 || datum.value == 2900 ? datum.label : ''","tickSize":6,"labelPadding":3,"title":null}},
     "y":{"field":"v","type":"quantitative","scale":{"domain":[0,1],"nice":false,"zero":false},
      "axis":{"ticks":false,"labels":false,"title":null}},
     "detail":{"field":"k"}}},
   {"data":{"name":"dot"},"transform":[{"filter":"datum.p == 'CH'"}],
    "mark":{"type":"line","color":"black","strokeWidth":3.2,"strokeDash":[0.1,6],"strokeCap":"round","interpolate":"monotone"},
    "encoding":{"x":{"field":"w","type":"quantitative"},"y":{"field":"v","type":"quantitative"}}},
   {"data":{"name":"arr"},"transform":[{"filter":"datum.p == 'BR'"}],
    "mark":{"type":"rule","color":"black","strokeWidth":1.8},
    "encoding":{"x":{"field":"w","type":"quantitative"},"y":{"field":"a","type":"quantitative"},"y2":{"field":"b"}}},
   {"data":{"name":"arr"},"transform":[{"filter":"datum.p == 'BR'"}],
    "mark":{"type":"point","filled":true,"color":"black","opacity":1,"size":30},
    "encoding":{"x":{"field":"w","type":"quantitative"},"y":{"field":"a","type":"quantitative"}}},
   {"data":{"name":"arr"},"transform":[{"filter":"datum.p == 'BR' && datum.dir == 'up'"}],
    "mark":{"type":"point","filled":true,"color":"black","opacity":1,"size":100,"shape":"M0,0L-0.6,1.9L0,1.4L0.6,1.9Z"},
    "encoding":{"x":{"field":"w","type":"quantitative"},"y":{"field":"b","type":"quantitative"}}},
   {"data":{"name":"arr"},"transform":[{"filter":"datum.p == 'BR' && datum.dir == 'down'"}],
    "mark":{"type":"point","filled":true,"color":"black","opacity":1,"size":100,"shape":"M0,0L-0.6,-1.9L0,-1.4L0.6,-1.9Z"},
    "encoding":{"x":{"field":"w","type":"quantitative"},"y":{"field":"b","type":"quantitative"}}}
  ]
 },
 {
  "width":215,"height":252,
  "layer":[
   {"data":{"name":"temp"},"transform":[{"filter":"datum.p == 'CTL' && datum.r == 1"}],
    "mark":{"type":"line","color":"black","strokeWidth":2.5,"interpolate":"monotone"},
    "encoding":{
     "x":{"field":"t","type":"quantitative","scale":{"domain":[300,170],"range":[14,215],"nice":false,"zero":false},
      "axis":{"values":[300,290,280,270,260,250,240,230,220,210,200,190,180,170],"tickCount":100,"format":"d","labelOverlap":false,"labelExpr":"datum.value % 50 == 0 ? datum.label : ''","tickSize":-5,"labelPadding":12,"title":null}},
     "y":{"field":"v","type":"quantitative","scale":{"domain":[0.5,1.2],"range":[252,70],"nice":false,"zero":false},
      "axis":{"values":[0.6,0.7,0.8,0.9,1.0,1.1,1.2],"tickCount":100,"format":".1f","labelOverlap":false,"labelExpr":"datum.value == 0.6 || datum.value == 0.9 || datum.value == 1.2 ? datum.label : ''","offset":-14,"tickSize":5,"labelPadding":4,
       "title":"A3250","titleX":-62,"titleY":154,"titleAngle":270,"titleAlign":"center","titleBaseline":"middle"}}}},
   {"data":{"name":"temp"},"transform":[{"filter":"datum.p == 'CTL' && datum.r == 4.8"}],
    "mark":{"type":"line","color":"black","strokeWidth":3.2,"strokeDash":[0.1,6.5],"strokeCap":"round","interpolate":"monotone"},
    "encoding":{"x":{"field":"t","type":"quantitative"},"y":{"field":"v","type":"quantitative"}}},
   {"data":{"values":[{}]},"mark":{"type":"point","shape":"triangle-down","filled":true,"color":"black","opacity":1,"size":60},
    "encoding":{"x":{"datum":196},"y":{"datum":1.093}}},
   {"data":{"values":[{}]},"mark":{"type":"text","align":"center","baseline":"middle"},
    "encoding":{"x":{"datum":196},"y":{"datum":1.165},"text":{"value":"196"}}},
   {"data":{"values":[{}]},"mark":{"type":"text","align":"left","baseline":"middle"},
    "encoding":{"x":{"datum":355},"y":{"datum":1.281},"text":{"value":"C"}}},
   {"data":{"values":[{}]},"mark":{"type":"text","align":"center","baseline":"middle"},
    "encoding":{"x":{"datum":145},"y":{"datum":1.172},"text":{"value":"1.0"}}},
   {"data":{"values":[{}]},"mark":{"type":"text","align":"center","baseline":"middle"},
    "encoding":{"x":{"datum":145},"y":{"datum":1.065},"text":{"value":"4.8"}}},
   {"data":{"values":[{}]},"mark":{"type":"text","align":"center","baseline":"middle"},
    "encoding":{"x":{"datum":145},"y":{"datum":0.881},"text":{"value":"Cooling rate"}}},
   {"data":{"values":[{}]},"mark":{"type":"text","align":"center","baseline":"middle"},
    "encoding":{"x":{"datum":145},"y":{"datum":0.727},"text":{"value":"/ K min⁻¹"}}}
  ]
 },
 {
  "width":215,"height":252,
  "layer":[
   {"data":{"name":"temp"},"transform":[{"filter":"datum.p == 'CTR'"}],
    "mark":{"type":"line","color":"black","strokeWidth":2.5,"interpolate":"monotone"},
    "encoding":{
     "x":{"field":"t","type":"quantitative","scale":{"domain":[170,300],"range":[0,202],"nice":false,"zero":false},
      "axis":{"values":[170,180,190,200,210,220,230,240,250,260,270,280,290,300],"tickCount":100,"format":"d","labelOverlap":false,"labelExpr":"datum.value % 50 == 0 ? datum.label : ''","tickSize":-5,"labelPadding":12,"title":null}},
     "y":{"field":"v","type":"quantitative","scale":{"domain":[0.5,1.2],"range":[252,70],"nice":false,"zero":false},
      "axis":{"orient":"right","values":[0.6,0.7,0.8,0.9,1.0,1.1,1.2],"tickCount":100,"labels":false,"offset":-13,"tickSize":5,"title":null}},
     "detail":{"field":"r"}}},
   {"data":{"values":[{}]},"mark":{"type":"point","shape":"triangle-down","filled":true,"color":"black","opacity":1,"size":60},
    "encoding":{"x":{"datum":197},"y":{"datum":1.137}}},
   {"data":{"values":[{}]},"mark":{"type":"text","align":"center","baseline":"middle"},
    "encoding":{"x":{"datum":197},"y":{"datum":1.21},"text":{"value":"197"}}}
  ]
 },
 {
  "width":215,"height":194,
  "layer":[
   {"data":{"name":"temp"},"transform":[{"filter":"datum.p == 'CBL' && datum.r == 1"}],
    "mark":{"type":"line","color":"black","strokeWidth":2.5,"interpolate":"monotone"},
    "encoding":{
     "x":{"field":"t","type":"quantitative","scale":{"domain":[300,170],"range":[14,215],"nice":false,"zero":false},
      "axis":{"values":[300,290,280,270,260,250,240,230,220,210,200,190,180,170],"tickCount":100,"format":"d","labelOverlap":false,"labelExpr":"datum.value % 50 == 0 ? datum.label : ''","tickSize":-5,"labelPadding":12,
       "title":"temperature / K","titleX":260,"titleY":52,"titleAlign":"center","titleBaseline":"middle"}},
     "y":{"field":"v","type":"quantitative","scale":{"domain":[0.7,1.1],"range":[194,11],"nice":false,"zero":false},
      "axis":{"values":[0.7,0.8,0.9,1.0,1.1],"tickCount":100,"format":".1f","labelOverlap":false,"labelExpr":"datum.value == 0.8 || datum.value == 1.0 ? datum.label : ''","offset":-14,"tickSize":5,"labelPadding":4,
       "title":"A2881/A2918","titleX":-64,"titleY":99,"titleAngle":270,"titleAlign":"center","titleBaseline":"middle"}}}},
   {"data":{"name":"temp"},"transform":[{"filter":"datum.p == 'CBL' && datum.r == 4.8"}],
    "mark":{"type":"line","color":"black","strokeWidth":3.2,"strokeDash":[0.1,6.5],"strokeCap":"round","interpolate":"monotone"},
    "encoding":{"x":{"field":"t","type":"quantitative"},"y":{"field":"v","type":"quantitative"}}},
   {"data":{"values":[{}]},"mark":{"type":"point","shape":"triangle-down","filled":true,"color":"black","opacity":1,"size":60},
    "encoding":{"x":{"datum":196},"y":{"datum":0.781}}},
   {"data":{"values":[{}]},"mark":{"type":"text","align":"center","baseline":"middle"},
    "encoding":{"x":{"datum":196},"y":{"datum":0.816},"text":{"value":"196"}}}
  ]
 },
 {
  "width":215,"height":194,
  "layer":[
   {"data":{"name":"temp"},"transform":[{"filter":"datum.p == 'CBR'"}],
    "mark":{"type":"line","color":"black","strokeWidth":2.5,"interpolate":"monotone"},
    "encoding":{
     "x":{"field":"t","type":"quantitative","scale":{"domain":[170,300],"range":[0,202],"nice":false,"zero":false},
      "axis":{"values":[170,180,190,200,210,220,230,240,250,260,270,280,290,300],"tickCount":100,"format":"d","labelOverlap":false,"labelExpr":"datum.value % 50 == 0 ? datum.label : ''","tickSize":-5,"labelPadding":12,"title":null}},
     "y":{"field":"v","type":"quantitative","scale":{"domain":[0.7,1.1],"range":[194,11],"nice":false,"zero":false},
      "axis":{"orient":"right","values":[0.7,0.8,0.9,1.0,1.1],"tickCount":100,"labels":false,"offset":-13,"tickSize":5,"title":null}},
     "detail":{"field":"r"}}},
   {"data":{"values":[{}]},"mark":{"type":"point","shape":"triangle-down","filled":true,"color":"black","opacity":1,"size":60},
    "encoding":{"x":{"datum":197},"y":{"datum":0.772}}},
   {"data":{"values":[{}]},"mark":{"type":"text","align":"center","baseline":"middle"},
    "encoding":{"x":{"datum":197},"y":{"datum":0.809},"text":{"value":"197"}}}
  ]
 }
]
}
